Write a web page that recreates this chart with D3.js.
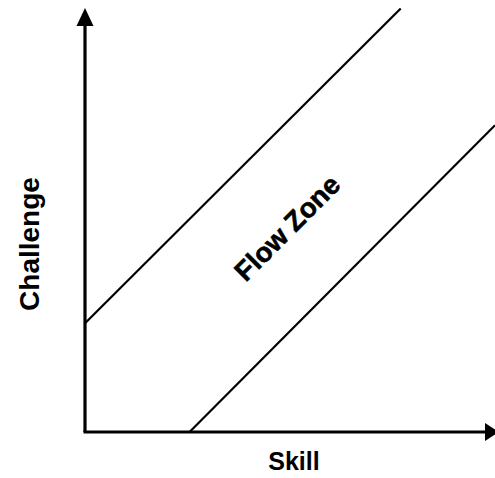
<!DOCTYPE html>
<html>
  <head>
    <meta charset="utf-8">
    <script src="https://d3js.org/d3.v7.min.js"></script>
    <style>
      body { margin: 0px; background: #fff; }
      .label {
        font-family: 'Liberation Sans', Arial, sans-serif;
        font-weight: bold;
        fill: #000;
      }
    </style>
  </head>
  <body>
    <svg width="495" height="478"></svg>
    <script>
      // skill / challenge units, same scale on both axes
      const skillDomain = [0, 100];
      const challengeDomain = [0, 103.4];
      const upperEdge = [[0, 26.5], [77, 103.3]];
      const lowerEdge = [[25.5, 0], [100, 74.8]];
      const xLabel = 'Skill';
      const yLabel = 'Challenge';
      const zoneLabel = 'Flow Zone';

      const margin = { left: 85, right: 0, top: 8, bottom: 46 };
      const svg = d3.select('svg');
      const width = +svg.attr('width');
      const height = +svg.attr('height');
      const innerWidth = width - margin.left - margin.right;
      const innerHeight = height - margin.top - margin.bottom;

      const xScale = d3.scaleLinear().domain(skillDomain).range([0, innerWidth]);
      const yScale = d3.scaleLinear().domain(challengeDomain).range([innerHeight, 0]);

      const g = svg.append('g')
          .attr('transform', `translate(${margin.left},${margin.top})`);

      const line = d3.line()
          .x(d => xScale(d[0]))
          .y(d => yScale(d[1]));

      g.selectAll('.edge').data([upperEdge, lowerEdge])
        .enter().append('path')
          .attr('class', 'edge')
          .attr('d', line)
          .attr('fill', 'none')
          .attr('stroke', '#000')
          .attr('stroke-width', 2.2);

      // axes
      const x0 = xScale(0), y0 = yScale(0);
      g.append('line')
          .attr('x1', x0).attr('y1', y0)
          .attr('x2', x0).attr('y2', 14)
          .attr('stroke', '#000').attr('stroke-width', 3.2);
      g.append('line')
          .attr('x1', x0 - 1.5).attr('y1', y0)
          .attr('x2', innerWidth - 6).attr('y2', y0)
          .attr('stroke', '#000').attr('stroke-width', 3.2);

      // arrow heads
      g.append('path')
          .attr('d', `M${x0},0 L${x0 - 8.5},18 L${x0 + 8.5},18 Z`)
          .attr('fill', '#000');
      g.append('path')
          .attr('d', `M${innerWidth + 4},${y0} L${innerWidth - 10},${y0 - 9} L${innerWidth - 10},${y0 + 9} Z`)
          .attr('fill', '#000');

      // labels
      svg.append('text')
          .attr('class', 'label')
          .attr('x', margin.left + innerWidth / 2 + 4)
          .attr('y', 470)
          .attr('text-anchor', 'middle')
          .style('font-size', '25px')
          .text(xLabel);

      svg.append('text')
          .attr('class', 'label')
          .attr('x', 39)
          .attr('y', 244)
          .attr('transform', 'rotate(-90, 39, 244)')
          .attr('text-anchor', 'middle')
          .style('font-size', '28px')
          .text(yLabel);

      // label in the middle of the band
      const zx = 49.3;
      const zy = zx + ((upperEdge[0][1] - upperEdge[0][0]) + (lowerEdge[0][1] - lowerEdge[0][0])) / 2;
      const zpx = margin.left + xScale(zx), zpy = margin.top + yScale(zy);
      svg.append('text')
          .attr('class', 'label')
          .attr('x', zpx)
          .attr('y', zpy)
          .attr('transform', `rotate(-45, ${zpx}, ${zpy})`)
          .attr('text-anchor', 'middle')
          .attr('dy', '0.35em')
          .style('font-size', '27.5px')
          .style('stroke', '#000')
          .style('stroke-width', 0.6)
          .text(zoneLabel);
    </script>
  </body>
</html>
